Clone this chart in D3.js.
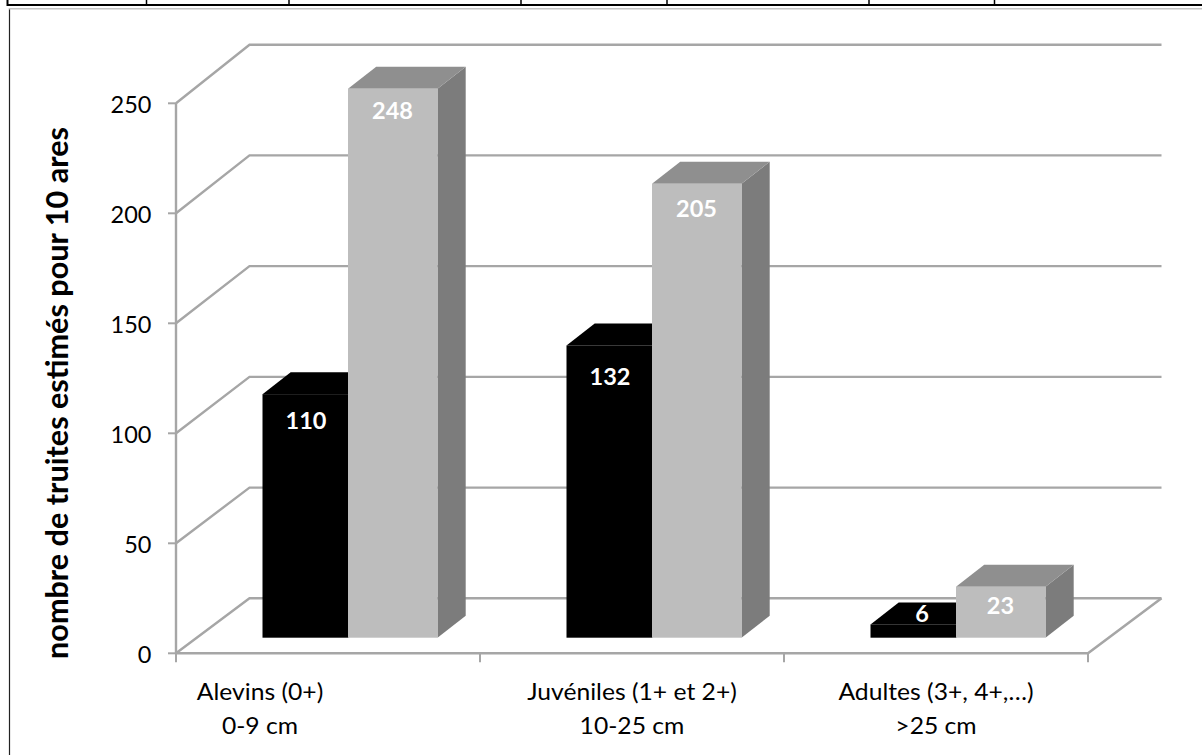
<!DOCTYPE html>
<html>
<head>
<meta charset="utf-8">
<script src="https://cdn.jsdelivr.net/npm/d3@7/dist/d3.min.js"></script>
<style>
  html, body { margin: 0; padding: 0; background: #fff; overflow: hidden; }
  svg { display: block; }
  text { font-family: Lato, "Open Sans", sans-serif; }
</style>
</head>
<body>
<svg id="chart" width="1202" height="755"></svg>
<script>
// Estimated trout density per age class, two sampling series
const categories = ["Alevins (0+)|0-9 cm", "Juvéniles (1+ et 2+)|10-25 cm", "Adultes (3+, 4+,…)|>25 cm"];
const darkSeries = [110, 132, 6];
const lightSeries = [248, 205, 23];
const yTicks = [0, 50, 100, 150, 200, 250];
const yTitle = "nombre de truites estimés pour 10 ares";
const headerRuleStops = [146.5, 289, 521, 667, 869, 994.5];

const svg = d3.select("#chart");
const gridColor = "#a6a6a6";

// Oblique projection: the back wall sits up and to the right of the front plane
const depthX = 73.5;
const barDepthX = 28.2, barDepthY = -22;

const x = d3.scaleBand().domain(categories).range([176, 1088]);
const y = d3.scaleLinear().domain([0, 250]).range([653.3, 103.3]);
const yBack = d3.scaleLinear().domain([0, 250]).range([598.3, 44.7]);
// Bars stand part-way back on the floor, so they use their own baseline
const yBar = d3.scaleLinear().domain([0, 250]).range([637.7, 84.2]);

// Widen rendered glyphs by a factor, keeping the text anchor
function widen(sel, factor) {
  sel.attr("textLength", function () { return this.getComputedTextLength() * factor; })
     .attr("lengthAdjust", "spacingAndGlyphs");
}

// Sheet rules above the plot and the plot's frame
svg.append("path").attr("d", "M7.5,0V5H1202").attr("fill", "none")
  .attr("stroke", "#000").attr("stroke-width", 2);
svg.selectAll(".header-stop").data(headerRuleStops).join("line")
  .attr("class", "header-stop")
  .attr("x1", d => d).attr("x2", d => d).attr("y1", 0).attr("y2", 6)
  .attr("stroke", "#000").attr("stroke-width", 1.5);
svg.append("line").attr("x1", 9.5).attr("x2", 9.5).attr("y1", 8).attr("y2", 755)
  .attr("stroke", "#222").attr("stroke-width", 1.2);
svg.append("line").attr("x1", 9).attr("x2", 1202).attr("y1", 8.8).attr("y2", 8.8)
  .attr("stroke", "#c4c4c4").attr("stroke-width", 1.5);

// Back wall gridlines, their side-wall returns and the floor
const grid = svg.append("g").attr("fill", "none").attr("stroke", gridColor).attr("stroke-width", 2.4);
grid.selectAll("path").data(yTicks).join("path")
  .attr("d", d => d3.line()([
    [x.range()[0], y(d)],
    [x.range()[0] + depthX, yBack(d)],
    [x.range()[1] + depthX, yBack(d)]
  ]));
grid.append("path").attr("d", d3.line()([
  [x.range()[1] + depthX, yBack(0)],
  [x.range()[1], y(0)],
  [x.range()[0], y(0)]
])).attr("stroke-width", 2.6);
grid.append("line").attr("x1", x.range()[0]).attr("x2", x.range()[0])
  .attr("y1", y(250)).attr("y2", y(0));

// Axis ticks
const tickGroup = svg.append("g").attr("stroke", gridColor).attr("stroke-width", 2);
tickGroup.selectAll(".ty").data(yTicks).join("line")
  .attr("class", "ty")
  .attr("x1", x.range()[0] - 8).attr("x2", x.range()[0])
  .attr("y1", d => y(d)).attr("y2", d => y(d));
tickGroup.selectAll(".tx").data(d3.range(categories.length + 1)).join("line")
  .attr("class", "tx")
  .attr("x1", i => x.range()[0] + i * x.step()).attr("x2", i => x.range()[0] + i * x.step())
  .attr("y1", y(0)).attr("y2", y(0) + 9);

// Tick labels
svg.append("g").selectAll("text").data(yTicks).join("text")
  .attr("x", 151.5).attr("y", d => y(d) + 10)
  .attr("text-anchor", "end").attr("font-size", 23.5).attr("fill", "#000")
  .text(d => d);

// Category labels on two lines; the first one is pulled left of its band centre
const firstLabelShift = -68;
const xLabels = svg.append("g").selectAll("g").data(categories).join("g");
xLabels.selectAll("text").data(d => d.split("|").map((t, i) => ({ t, i, c: d }))).join("text")
  .attr("x", d => x(d.c) + x.bandwidth() / 2 + (categories.indexOf(d.c) === 0 ? firstLabelShift : 0))
  .attr("y", d => 700 + d.i * 33.5)
  .attr("text-anchor", "middle").attr("font-size", 23.5).attr("fill", "#000")
  .text(d => d.t)
  .call(widen, 1.05);

// Value axis title
svg.append("text")
  .attr("transform", "translate(68,393) rotate(-90)")
  .attr("text-anchor", "middle").attr("font-size", 30.6).attr("font-weight", 700).attr("fill", "#000")
  .text(yTitle);

// A 3D column: right side and top faces behind the front face
function drawBar(g, x0, w, value, palette) {
  const top = yBar(value), base = yBar(0);
  g.append("polygon").attr("fill", palette.side).attr("points", [
    [x0 + w, top], [x0 + w + barDepthX, top + barDepthY],
    [x0 + w + barDepthX, base + barDepthY], [x0 + w, base]
  ].join(" "));
  g.append("polygon").attr("fill", palette.top).attr("points", [
    [x0, top], [x0 + barDepthX, top + barDepthY],
    [x0 + w + barDepthX, top + barDepthY], [x0 + w, top]
  ].join(" "));
  g.append("rect").attr("x", x0).attr("y", top).attr("width", w).attr("height", base - top)
    .attr("fill", palette.front);
}

const darkPalette = { front: "#000", top: "#000", side: "#000" };
const lightPalette = { front: "#bdbdbd", top: "#8f8f8f", side: "#7c7c7c" };
const darkWidth = 85.5, lightWidth = 89.5, inset = 86.5;

const bars = svg.append("g");
categories.forEach((c, i) => {
  const g = bars.append("g");
  const x0 = x(c) + inset;
  drawBar(g, x0, darkWidth, darkSeries[i], darkPalette);
  drawBar(g, x0 + darkWidth, lightWidth, lightSeries[i], lightPalette);
});

// Value labels, white on the front faces; the short dark column's label rides on its top face
const darkLabelDrop = [35, 40, -2];
const lightLabelDrop = [30, 33, 27.5];
const labels = svg.append("g").attr("fill", "#fff").attr("font-size", 23.5).attr("font-weight", 700).attr("text-anchor", "middle");
categories.forEach((c, i) => {
  const x0 = x(c) + inset;
  labels.append("text").attr("x", x0 + 43.5 + (i === 2 ? 8 : 0))
    .attr("y", yBar(darkSeries[i]) + darkLabelDrop[i])
    .text(darkSeries[i]);
  labels.append("text").attr("x", x0 + darkWidth + 44.5)
    .attr("y", yBar(lightSeries[i]) + lightLabelDrop[i])
    .text(lightSeries[i]);
});
</script>
</body>
</html>
